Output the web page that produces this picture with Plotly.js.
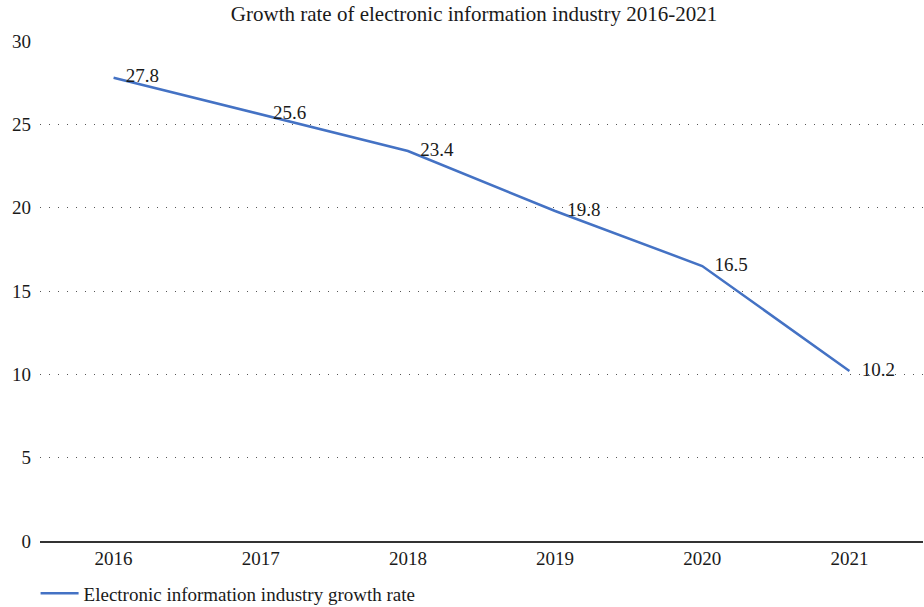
<!DOCTYPE html>
<html>
<head>
<meta charset="utf-8">
<script src="https://cdn.plot.ly/plotly-3.0.1.min.js"></script>
<style>html,body{margin:0;padding:0;background:#fff;}#chart{width:924px;height:607px;}</style>
</head>
<body>
<div id="chart"></div>
<script>
const years = ["2016", "2017", "2018", "2019", "2020", "2021"];
const growthRate = [27.8, 25.6, 23.4, 19.8, 16.5, 10.2];
const seriesName = "Electronic information industry growth rate";
const chartTitle = "Growth rate of electronic information industry 2016-2021";
const yTicks = [0, 5, 10, 15, 20, 25, 30];

const font = "Liberation Serif";
const txt = "#1a1a1a";
const trace = {
  x: years,
  y: growthRate,
  type: "scatter",
  mode: "lines+markers+text",
  name: seriesName,
  text: growthRate.map(v => v.toFixed(1)),
  textposition: "middle right",
  textfont: {family: font, size: 19, color: txt},
  line: {color: "#4472C4", width: 2.5},
  marker: {size: 18, color: "rgba(0,0,0,0)", line: {width: 0}},
  cliponaxis: false
};
const layout = {
  width: 924, height: 607,
  margin: {l: 40, r: 1, t: 41, b: 66, autoexpand: false},
  paper_bgcolor: "#fff", plot_bgcolor: "#fff",
  font: {family: font, size: 19, color: txt},
  title: {text: chartTitle, x: 0.513, xanchor: "center", y: 0.99, yanchor: "top", font: {family: font, size: 21, color: txt}},
  xaxis: {type: "category", range: [-0.5, 5.5], showgrid: false, showline: true, linecolor: "#333", linewidth: 1.5, ticks: "", tickfont: {family: font, size: 19, color: txt}, zeroline: false, fixedrange: true},
  yaxis: {range: [0, 30], tickvals: yTicks, ticktext: yTicks.map(String), showgrid: true, gridcolor: "#555", griddash: "1px,8px", gridwidth: 1, zeroline: false, showline: false, ticks: "", ticklabelstandoff: 8, tickfont: {family: font, size: 19, color: txt}, fixedrange: true},
  showlegend: true,
  legend: {orientation: "h", x: -0.005, xanchor: "left", y: -0.067, yanchor: "top", itemwidth: 38, font: {family: font, size: 19, color: txt}}
};
Plotly.newPlot("chart", [trace], layout, {displayModeBar: false, staticPlot: true});
</script>
</body>
</html>
